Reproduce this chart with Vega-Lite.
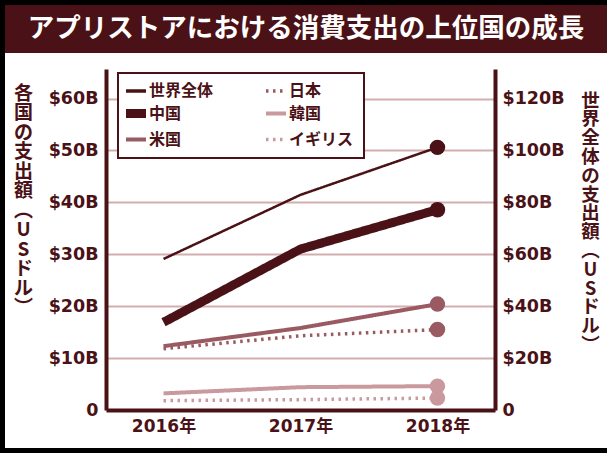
{
  "$schema": "https://vega.github.io/schema/vega-lite/v6.json",
  "background": "white",
  "padding": 0,
  "autosize": {"type": "pad"},
  "config": {
    "view": {"stroke": null},
    "font": "Noto Sans CJK JP"
  },
  "spacing": 0,
  "hconcat": [
    {"width": 5, "height": 453, "view": {"fill": "black", "stroke": null}, "data": {"values": []}, "mark": "point"},
    {
      "spacing": 0,
      "vconcat": [
        {"width": 602, "height": 5, "view": {"fill": "black", "stroke": null}, "data": {"values": []}, "mark": "point"},
        {
          "width": 602, "height": 48,
          "view": {"fill": "#4a1216", "stroke": null},
          "data": {"values": [{"t": "アプリストアにおける消費支出の上位国の成長"}]},
          "mark": {"type": "text", "font": "Noto Sans CJK JP", "fontSize": 26.5, "fontWeight": "bold", "color": "white", "align": "center", "baseline": "middle"},
          "encoding": {"text": {"field": "t", "type": "nominal"}}
        },
        {"width": 602, "height": 16, "data": {"values": []}, "mark": "point"},
        {
          "spacing": 0,
          "bounds": "flush",
          "hconcat": [
            {"width": 101, "height": 379, "data": {"values": []}, "mark": "point"},
            {
              "width": 389, "height": 341,
              "data": {"values": [
                {"country": "世界全体", "year": "2016", "spend": 58.2},
                {"country": "世界全体", "year": "2017", "spend": 82.9},
                {"country": "世界全体", "year": "2018", "spend": 101.2},
                {"country": "中国", "year": "2016", "spend": 16.9},
                {"country": "中国", "year": "2017", "spend": 31.0},
                {"country": "中国", "year": "2018", "spend": 38.6},
                {"country": "米国", "year": "2016", "spend": 12.3},
                {"country": "米国", "year": "2017", "spend": 15.8},
                {"country": "米国", "year": "2018", "spend": 20.4},
                {"country": "日本", "year": "2016", "spend": 11.8},
                {"country": "日本", "year": "2017", "spend": 14.3},
                {"country": "日本", "year": "2018", "spend": 15.5},
                {"country": "韓国", "year": "2016", "spend": 3.2},
                {"country": "韓国", "year": "2017", "spend": 4.4},
                {"country": "韓国", "year": "2018", "spend": 4.6},
                {"country": "イギリス", "year": "2016", "spend": 1.8},
                {"country": "イギリス", "year": "2017", "spend": 2.0},
                {"country": "イギリス", "year": "2018", "spend": 2.3}
              ]},
              "layer": [
                {
                  "transform": [{"filter": "datum.country !== '世界全体'"}],
                  "encoding": {
                    "x": {"field": "year", "type": "ordinal", "scale": {"type": "point", "padding": 0.42},
                      "axis": {"title": null, "labelExpr": "datum.label + '年'", "labelAngle": 0, "ticks": false, "domainColor": "#4a1216", "domainWidth": 4, "labelFont": "DejaVu Sans, Noto Sans CJK JP", "labelFontSize": 17, "labelFontWeight": "bold", "labelColor": "#4a1216", "labelPadding": 8, "grid": false}},
                    "y": {"field": "spend", "type": "quantitative", "scale": {"domain": [0, 65.7], "nice": false, "zero": true},
                      "axis": {"orient": "left", "values": [0, 10, 20, 30, 40, 50, 60], "labelExpr": "datum.value == 0 ? '0' : '$' + datum.value + 'B'", "ticks": false, "grid": true, "gridColor": "#d4aeae", "gridWidth": 2, "domainColor": "#4a1216", "domainWidth": 4, "labelFont": "DejaVu Sans", "labelFontSize": 17.5, "labelFontWeight": "bold", "labelColor": "#4a1216", "labelPadding": 8,
                        "title": ["各", "国", "の", "支", "出", "額", "︵", "U", "S", "ド", "ル", "︶"],
                        "titleAngle": 0, "titleX": -83, "titleY": 15, "titleAlign": "center", "titleBaseline": "top", "titleFont": "Noto Sans CJK JP", "titleFontSize": 19, "titleFontWeight": "bold", "titleColor": "#4a1216", "titleLineHeight": 19.5}}
                  },
                  "layer": [
                    {
                      "mark": {"type": "line"},
                      "encoding": {
                        "color": {"field": "country", "type": "nominal",
                          "scale": {"domain": ["世界全体", "中国", "米国", "日本", "韓国", "イギリス"], "range": ["#4a1216", "#4a1216", "#9a5a61", "#9a5a61", "#c9999e", "#c9999e"]},
                          "legend": {"title": null, "orient": "none", "legendX": 118, "legendY": 73, "columns": 2, "columnPadding": 44, "rowPadding": -3.5, "padding": 10, "symbolType": "stroke", "symbolSize": 400, "labelOffset": 5, "labelFont": "Noto Sans CJK JP", "labelFontSize": 16, "labelFontWeight": "bold", "labelColor": "#4a1216", "strokeColor": "#4a1216", "fillColor": "white",
                            "encode": {"legend": {"update": {"strokeWidth": {"value": 2}}}, "symbols": {"update": {"strokeWidth": {"signal": "datum.value === '中国' ? 9 : (datum.value === '米国' || datum.value === '韓国') ? 4 : 3.5"}}}}}},
                        "strokeWidth": {"field": "country", "type": "nominal",
                          "scale": {"type": "ordinal", "domain": ["世界全体", "中国", "米国", "日本", "韓国", "イギリス"], "range": [3.5, 9, 4, 3.5, 4, 3.5]}},
                        "strokeDash": {"field": "country", "type": "nominal",
                          "scale": {"domain": ["世界全体", "中国", "米国", "日本", "韓国", "イギリス"], "range": [[1, 0], [1, 0], [1, 0], [2.5, 4.5], [1, 0], [2.5, 4.5]]}}
                      }
                    },
                    {
                      "transform": [{"filter": "datum.year === '2018'"}],
                      "mark": {"type": "circle", "size": 240, "opacity": 1},
                      "encoding": {"color": {"field": "country", "type": "nominal", "legend": null}}
                    }
                  ]
                },
                {
                  "transform": [{"filter": "datum.country === '世界全体'"}],
                  "encoding": {
                    "x": {"field": "year", "type": "ordinal", "scale": {"type": "point", "padding": 0.42}},
                    "y": {"field": "spend", "type": "quantitative", "scale": {"domain": [0, 131.4], "nice": false, "zero": true},
                      "axis": {"orient": "right", "values": [0, 20, 40, 60, 80, 100, 120], "labelExpr": "datum.value == 0 ? '0' : '$' + datum.value + 'B'", "ticks": false, "grid": false, "domainColor": "#4a1216", "domainWidth": 4, "labelFont": "DejaVu Sans", "labelFontSize": 17.5, "labelFontWeight": "bold", "labelColor": "#4a1216", "labelPadding": 7,
                        "title": ["世", "界", "全", "体", "の", "支", "出", "額", "︵", "U", "S", "ド", "ル", "︶"],
                        "titleAngle": 0, "titleX": 95, "titleY": 22, "titleAlign": "center", "titleBaseline": "top", "titleFont": "Noto Sans CJK JP", "titleFontSize": 18.5, "titleFontWeight": "bold", "titleColor": "#4a1216", "titleLineHeight": 18.8}}
                  },
                  "layer": [
                    {
                      "mark": {"type": "line"},
                      "encoding": {
                        "color": {"field": "country", "type": "nominal"},
                        "strokeWidth": {"field": "country", "type": "nominal"},
                        "strokeDash": {"field": "country", "type": "nominal"}
                      }
                    },
                    {
                      "transform": [{"filter": "datum.year === '2018'"}],
                      "mark": {"type": "circle", "size": 240, "opacity": 1},
                      "encoding": {"color": {"field": "country", "type": "nominal", "legend": null}}
                    }
                  ]
                }
              ],
              "resolve": {"scale": {"y": "independent"}, "axis": {"y": "independent"}}
            },
            {"width": 112, "height": 379, "data": {"values": []}, "mark": "point"}
          ]
        },
        {"width": 602, "height": 5, "view": {"fill": "black", "stroke": null}, "data": {"values": []}, "mark": "point"}
      ]
    },
    {"width": 5, "height": 453, "view": {"fill": "black", "stroke": null}, "data": {"values": []}, "mark": "point"}
  ]
}
